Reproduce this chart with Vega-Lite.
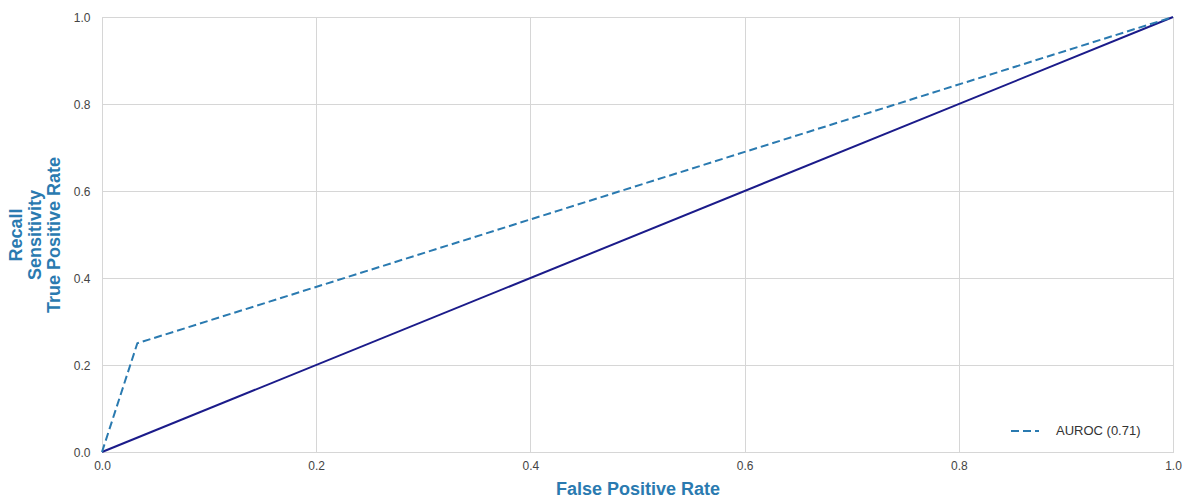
{
  "$schema": "https://vega.github.io/schema/vega-lite/v6.json",
  "autosize": {"type": "none"},
  "width": 1071,
  "height": 435,
  "padding": {"left": 102, "top": 17, "right": 19, "bottom": 51},
  "background": "white",
  "config": {
    "view": {"stroke": "#cccccc", "strokeWidth": 1},
    "font": "Liberation Sans",
    "axis": {
      "labelFont": "Liberation Sans",
      "labelFontSize": 12,
      "labelColor": "#444444",
      "labelFlush": false,
      "gridColor": "#d6d6d6",
      "gridWidth": 1,
      "domain": false,
      "ticks": false,
      "titleFont": "Liberation Sans",
      "titleFontSize": 18,
      "titleFontWeight": "bold",
      "titleColor": "#2a7ab0"
    }
  },
  "datasets": {
    "roc": [
      {"fpr": 0.0, "tpr": 0.0, "series": "AUROC (0.71)"},
      {"fpr": 0.033, "tpr": 0.25, "series": "AUROC (0.71)"},
      {"fpr": 1.0, "tpr": 1.0, "series": "AUROC (0.71)"}
    ],
    "diag": [
      {"fpr": 0.0, "tpr": 0.0},
      {"fpr": 1.0, "tpr": 1.0}
    ]
  },
  "layer": [
    {
      "data": {"name": "diag"},
      "mark": {"type": "line", "color": "#1b1b8a", "strokeWidth": 2},
      "encoding": {
        "x": {"field": "fpr", "type": "quantitative", "scale": {"domain": [0, 1], "nice": false},
          "axis": {"title": "False Positive Rate", "format": ".1f", "values": [0, 0.2, 0.4, 0.6, 0.8, 1.0], "labelPadding": 8, "titlePadding": 9}},
        "y": {"field": "tpr", "type": "quantitative", "scale": {"domain": [0, 1], "nice": false},
          "axis": {"title": ["Recall", "Sensitivity", "True Positive Rate"], "format": ".1f", "values": [0, 0.2, 0.4, 0.6, 0.8, 1.0], "labelPadding": 12, "titlePadding": 10, "titleLineHeight": 19}}
      }
    },
    {
      "data": {"name": "roc"},
      "mark": {"type": "line", "strokeWidth": 2, "strokeDash": [8, 4]},
      "encoding": {
        "x": {"field": "fpr", "type": "quantitative"},
        "y": {"field": "tpr", "type": "quantitative"},
        "color": {"field": "series", "type": "nominal",
          "scale": {"domain": ["AUROC (0.71)"], "range": ["#2a7ab0"]},
          "legend": {"title": null, "orient": "none", "legendX": 908, "legendY": 399, "symbolType": "stroke", "symbolDash": [8, 4], "symbolStrokeWidth": 2, "symbolSize": 784, "labelFontSize": 13, "labelColor": "#333333", "labelFont": "Liberation Sans", "labelOffset": 16}}
      }
    }
  ]
}
